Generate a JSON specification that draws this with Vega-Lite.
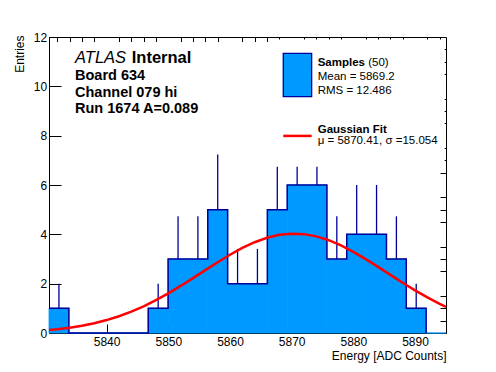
{
  "$schema": "https://vega.github.io/schema/vega-lite/v6.json",
  "width": 397,
  "height": 296,
  "autosize": "none",
  "padding": {"left": 49, "top": 37, "right": 50, "bottom": 39},
  "background": "white",
  "config": {
    "font": "Liberation Sans",
    "view": {"stroke": "black", "strokeWidth": 1},
    "axis": {
      "labelFont": "Liberation Sans", "titleFont": "Liberation Sans",
      "labelFontSize": 12, "titleFontSize": 12, "titleFontWeight": "normal",
      "labelColor": "black", "titleColor": "black", "domainColor": "black", "tickColor": "black",
      "grid": false, "labelFlush": false, "labelOverlap": false, "zindex": 1
    }
  },
  "datasets": {
    "hist": [
      {"x0": 5830.66, "x1": 5833.88, "c": 5832.27, "n": 1, "top": 2},
      {"x0": 5833.88, "x1": 5837.10, "c": 5835.49, "n": 0, "top": 0},
      {"x0": 5837.10, "x1": 5840.31, "c": 5838.70, "n": 0, "top": 0},
      {"x0": 5840.31, "x1": 5843.53, "c": 5841.92, "n": 0, "top": 0},
      {"x0": 5843.53, "x1": 5846.75, "c": 5845.14, "n": 0, "top": 0},
      {"x0": 5846.75, "x1": 5849.97, "c": 5848.36, "n": 1, "top": 2},
      {"x0": 5849.97, "x1": 5853.19, "c": 5851.58, "n": 3, "top": 4.73},
      {"x0": 5853.19, "x1": 5856.40, "c": 5854.80, "n": 3, "top": 4.73},
      {"x0": 5856.40, "x1": 5859.62, "c": 5858.01, "n": 5, "top": 7.24},
      {"x0": 5859.62, "x1": 5862.84, "c": 5861.23, "n": 2, "top": 3.41},
      {"x0": 5862.84, "x1": 5866.06, "c": 5864.45, "n": 2, "top": 3.41},
      {"x0": 5866.06, "x1": 5869.28, "c": 5867.67, "n": 5, "top": 7.24},
      {"x0": 5869.28, "x1": 5872.49, "c": 5870.89, "n": 6, "top": 8.45},
      {"x0": 5872.49, "x1": 5875.71, "c": 5874.10, "n": 6, "top": 8.45},
      {"x0": 5875.71, "x1": 5878.93, "c": 5877.32, "n": 3, "top": 4.73},
      {"x0": 5878.93, "x1": 5882.15, "c": 5880.54, "n": 4, "top": 6},
      {"x0": 5882.15, "x1": 5885.37, "c": 5883.76, "n": 4, "top": 6},
      {"x0": 5885.37, "x1": 5888.58, "c": 5886.98, "n": 3, "top": 4.73},
      {"x0": 5888.58, "x1": 5891.80, "c": 5890.19, "n": 1, "top": 2},
      {"x0": 5891.80, "x1": 5895.02, "c": 5893.41, "n": 0, "top": 0}
    ],
    "fit": [
      {"x": 5830.66, "y": 0.123}, {"x": 5832, "y": 0.155}, {"x": 5834, "y": 0.216},
      {"x": 5836, "y": 0.296}, {"x": 5838, "y": 0.397}, {"x": 5840, "y": 0.524},
      {"x": 5842, "y": 0.679}, {"x": 5844, "y": 0.865}, {"x": 5846, "y": 1.082},
      {"x": 5848, "y": 1.331}, {"x": 5850, "y": 1.608}, {"x": 5852, "y": 1.908},
      {"x": 5854, "y": 2.225}, {"x": 5856, "y": 2.549}, {"x": 5858, "y": 2.869},
      {"x": 5860, "y": 3.173}, {"x": 5862, "y": 3.448}, {"x": 5864, "y": 3.681},
      {"x": 5866, "y": 3.861}, {"x": 5868, "y": 3.979}, {"x": 5870, "y": 4.028},
      {"x": 5872, "y": 4.008}, {"x": 5874, "y": 3.917}, {"x": 5876, "y": 3.762},
      {"x": 5878, "y": 3.549}, {"x": 5880, "y": 3.290}, {"x": 5882, "y": 2.996},
      {"x": 5884, "y": 2.681}, {"x": 5886, "y": 2.358}, {"x": 5888, "y": 2.036},
      {"x": 5890, "y": 1.728}, {"x": 5892, "y": 1.441}, {"x": 5894, "y": 1.180},
      {"x": 5895.02, "y": 1.060}
    ]
  },
  "layer": [
    {
      "data": {"name": "hist"},
      "mark": {"type": "rect", "fill": "#0099ff", "stroke": "#0099ff", "strokeWidth": 0.8},
      "encoding": {
        "x": {"field": "x0", "type": "quantitative",
          "scale": {"domain": [5830.66, 5895.02], "nice": false, "zero": false},
          "axis": {"values": [5840, 5850, 5860, 5870, 5880, 5890], "format": "d", "tickSize": -9, "labelPadding": 21.3,
            "labelBaseline": "alphabetic", "title": "Energy [ADC Counts]", "titleX": 397, "titleY": 26.3,
            "titleAlign": "right", "titleBaseline": "alphabetic", "titleAnchor": null}},
        "x2": {"field": "x1"},
        "y": {"field": "n", "type": "quantitative",
          "scale": {"domain": [0, 12], "nice": false, "zero": false},
          "axis": {"values": [0, 2, 4, 6, 8, 10, 12], "format": "d", "tickSize": -12, "labelPadding": 14.3,
            "title": "Entries", "titleX": -25.7, "titleY": -2, "titleAngle": -90,
            "titleAlign": "right", "titleBaseline": "alphabetic", "titleAnchor": null}},
        "y2": {"datum": 0}
      }
    },
    {
      "data": {"name": "hist"},
      "mark": {"type": "line", "interpolate": "step-after", "stroke": "#000099", "strokeWidth": 1.5},
      "encoding": {
        "x": {"field": "x0", "type": "quantitative", "scale": {"domain": [5830.66, 5895.02], "nice": false, "zero": false}, "axis": null},
        "y": {"field": "n", "type": "quantitative", "scale": {"domain": [0, 12], "nice": false, "zero": false}, "axis": null}
      }
    },
    {
      "data": {"name": "hist"},
      "mark": {"type": "rule", "stroke": "#000099", "strokeWidth": 1.3},
      "encoding": {
        "x": {"field": "c", "type": "quantitative", "scale": {"domain": [5830.66, 5895.02], "nice": false, "zero": false},
          "axis": {"values": [5832, 5834, 5836, 5838, 5842, 5844, 5846, 5848, 5852, 5854, 5856, 5858, 5862, 5864, 5866, 5868, 5872, 5874, 5876, 5878, 5882, 5884, 5886, 5888, 5892, 5894],
            "tickSize": -4.5, "labels": false, "domain": false, "title": null}},
        "y": {"field": "n", "type": "quantitative", "scale": {"domain": [0, 12], "nice": false, "zero": false},
          "axis": {"values": [0.5, 1, 1.5, 2.5, 3, 3.5, 4.5, 5, 5.5, 6.5, 7, 7.5, 8.5, 9, 9.5, 10.5, 11, 11.5],
            "tickSize": -6, "labels": false, "domain": false, "title": null}},
        "y2": {"field": "top"}
      }
    },
    {
      "data": {"name": "fit"},
      "mark": {"type": "line", "stroke": "#ff0000", "strokeWidth": 2.5},
      "encoding": {
        "x": {"field": "x", "type": "quantitative", "scale": {"domain": [5830.66, 5895.02], "nice": false, "zero": false}, "axis": null},
        "y": {"field": "y", "type": "quantitative", "scale": {"domain": [0, 12], "nice": false, "zero": false}, "axis": null}
      }
    },
    {
      "data": {"values": [{}]},
      "mark": {"type": "rect", "fill": "white", "strokeWidth": 0},
      "encoding": {
        "x": {"datum": 5866.5, "type": "quantitative", "scale": {"domain": [5830.66, 5895.02], "nice": false, "zero": false}, "axis": null},
        "x2": {"datum": 5894.8},
        "y": {"datum": 6.74, "type": "quantitative", "scale": {"domain": [0, 12], "nice": false, "zero": false}, "axis": null},
        "y2": {"datum": 11.9}
      }
    },
    {
      "data": {"values": [{}]},
      "mark": {"type": "rect", "fill": "#0099ff", "stroke": "#000099", "strokeWidth": 1.3},
      "encoding": {
        "x": {"datum": 5868.64, "type": "quantitative", "scale": {"domain": [5830.66, 5895.02], "nice": false, "zero": false}, "axis": null},
        "x2": {"datum": 5873.24},
        "y": {"datum": 11.34, "type": "quantitative", "scale": {"domain": [0, 12], "nice": false, "zero": false}, "axis": null},
        "y2": {"datum": 9.58}
      }
    },
    {
      "data": {"values": [{}]},
      "mark": {"type": "rule", "stroke": "#ff0000", "strokeWidth": 2.5},
      "encoding": {
        "x": {"datum": 5868.64, "type": "quantitative", "scale": {"domain": [5830.66, 5895.02], "nice": false, "zero": false}, "axis": null},
        "x2": {"datum": 5873.24},
        "y": {"datum": 7.99, "type": "quantitative", "scale": {"domain": [0, 12], "nice": false, "zero": false}, "axis": null}
      }
    },
    {
      "data": {"values": [{"t": "ATLAS", "px": 5834.88, "py": 10.93}]},
      "mark": {"type": "text", "align": "left", "baseline": "alphabetic", "color": "black", "fontSize": 16.5, "fontStyle": "italic"},
      "encoding": {
        "x": {"field": "px", "type": "quantitative", "scale": {"domain": [5830.66, 5895.02], "nice": false, "zero": false}, "axis": null},
        "y": {"field": "py", "type": "quantitative", "scale": {"domain": [0, 12], "nice": false, "zero": false}, "axis": null},
        "text": {"field": "t"}
      }
    },
    {
      "data": {"values": [{"t": "Internal", "px": 5844.07, "py": 10.93}]},
      "mark": {"type": "text", "align": "left", "baseline": "alphabetic", "color": "black", "fontSize": 16.5, "fontWeight": "bold"},
      "encoding": {
        "x": {"field": "px", "type": "quantitative", "scale": {"domain": [5830.66, 5895.02], "nice": false, "zero": false}, "axis": null},
        "y": {"field": "py", "type": "quantitative", "scale": {"domain": [0, 12], "nice": false, "zero": false}, "axis": null},
        "text": {"field": "t"}
      }
    },
    {
      "data": {"values": [
        {"t": "Board 634", "px": 5834.88, "py": 10.26},
        {"t": "Channel 079 hi", "px": 5834.88, "py": 9.58},
        {"t": "Run 1674 A=0.089", "px": 5834.88, "py": 8.93}
      ]},
      "mark": {"type": "text", "align": "left", "baseline": "alphabetic", "color": "black", "fontSize": 14.5, "fontWeight": "bold"},
      "encoding": {
        "x": {"field": "px", "type": "quantitative", "scale": {"domain": [5830.66, 5895.02], "nice": false, "zero": false}, "axis": null},
        "y": {"field": "py", "type": "quantitative", "scale": {"domain": [0, 12], "nice": false, "zero": false}, "axis": null},
        "text": {"field": "t"}
      }
    },
    {
      "data": {"values": [
        {"t": "Samples", "px": 5874.22, "py": 10.83},
        {"t": "Gaussian Fit", "px": 5874.22, "py": 8.09}
      ]},
      "mark": {"type": "text", "align": "left", "baseline": "alphabetic", "color": "black", "fontSize": 11.5, "fontWeight": "bold"},
      "encoding": {
        "x": {"field": "px", "type": "quantitative", "scale": {"domain": [5830.66, 5895.02], "nice": false, "zero": false}, "axis": null},
        "y": {"field": "py", "type": "quantitative", "scale": {"domain": [0, 12], "nice": false, "zero": false}, "axis": null},
        "text": {"field": "t"}
      }
    },
    {
      "data": {"values": [
        {"t": "(50)", "px": 5882.41, "py": 10.83},
        {"t": "Mean = 5869.2", "px": 5874.22, "py": 10.26},
        {"t": "RMS = 12.486", "px": 5874.22, "py": 9.69},
        {"t": "μ = 5870.41, σ =15.054", "px": 5874.22, "py": 7.65}
      ]},
      "mark": {"type": "text", "align": "left", "baseline": "alphabetic", "color": "black", "fontSize": 11.5},
      "encoding": {
        "x": {"field": "px", "type": "quantitative", "scale": {"domain": [5830.66, 5895.02], "nice": false, "zero": false}, "axis": null},
        "y": {"field": "py", "type": "quantitative", "scale": {"domain": [0, 12], "nice": false, "zero": false}, "axis": null},
        "text": {"field": "t"}
      }
    }
  ],
  "resolve": {"axis": {"x": "independent", "y": "independent"}}
}
